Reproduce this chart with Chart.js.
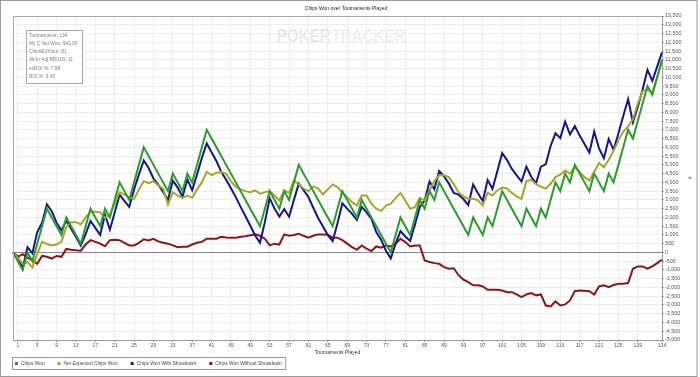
<!DOCTYPE html>
<html>
<head>
<meta charset="utf-8">
<script src="https://cdn.jsdelivr.net/npm/chart.js@4.4.1/dist/chart.umd.min.js"></script>
<style>
  html, body { margin: 0; padding: 0; background: #fff; }
  #wrap { width: 700px; height: 377px; }
</style>
</head>
<body>
<div id="wrap"><canvas id="mychart" width="700" height="377"></canvas></div>
<script>
const FONT = '"Liberation Sans", Arial, sans-serif'
let mychart

// tournament index 0..134 (0 = starting point)
const tournaments = Array.from({ length: 135 }, (_, i) => String(i))
const xTickLabels = ['1', '5', '9', '13', '17', '21', '25', '29', '33', '37', '41', '45', '49', '53', '57', '61', '65',
    '69', '73', '77', '81', '85', '89', '93', '97', '101', '105', '109', '113', '117', '121', '125', '129', '134']

const chipsWon = [
    0, -500, -1000, 0, -500, 500, 1500, 2500, 2000, 1500,
    1000, 2000, 1500, 1000, 500, 1500, 2500, 2000, 1500, 2500,
    2000, 3000, 4000, 3500, 3000, 4000, 5000, 6000, 5500, 5000,
    4500, 4000, 3500, 4500, 4000, 3500, 4500, 4000, 5000, 6000,
    7000, 6500, 6000, 5500, 5000, 4500, 4000, 3500, 3000, 2500,
    2000, 1500, 2500, 3500, 3000, 2500, 3500, 3000, 4000, 5000,
    4500, 4000, 3500, 3000, 2500, 2000, 1500, 2500, 3500, 3000,
    2500, 2000, 3000, 2500, 2000, 1500, 1000, 500, 0, 1000,
    2000, 1500, 1000, 2000, 3000, 2500, 3500, 3000, 4000, 3500,
    3000, 2500, 2000, 1500, 1000, 2000, 1500, 1000, 2000, 1500,
    2500, 3500, 3000, 2500, 2000, 1500, 2500, 2000, 1500, 2500,
    2000, 3000, 4000, 3500, 4500, 4000, 5000, 4500, 4000, 3500,
    4500, 4000, 3500, 4500, 4000, 5000, 6000, 7000, 6500, 7500,
    8500, 9500, 9000, 10000, 11000
]

const netExpected = [
    0, -300, -650, -550, -850, -100, 600, 480, 400, 450,
    600, 1450, 1730, 1730, 1600, 2000, 2340, 2320, 2300, 1970,
    2150, 2800, 3440, 3300, 3160, 3060, 3600, 4070, 3960, 4070,
    3830, 3640, 2740, 3440, 3250, 3120, 3250, 3120, 3600, 4000,
    4600, 4420, 4550, 4590, 4500, 4050, 3750, 3600, 3500, 3440,
    3540, 3350, 3440, 3500, 3250, 2970, 3540, 3400, 4110, 3880,
    3650, 3500, 3770, 3650, 3310, 3600, 3880, 3730, 3400, 3150,
    2870, 2680, 3250, 3250, 2780, 2500, 2360, 2680, 2780, 3100,
    3390, 2970, 2490, 2600, 3120, 2970, 3540, 4070, 4400, 4400,
    4300, 3900, 3440, 3200, 3060, 3060, 2970, 2680, 3400, 3250,
    3540, 3700, 3650, 3400, 3200, 3060, 4070, 4150, 3900, 3750,
    3640, 3920, 4300, 4440, 4680, 4500, 4870, 4590, 4300, 4110,
    4590, 5100, 4870, 5290, 5800, 6400, 6900, 7200, 7600, 8500,
    9200, 9300, 9100, 10000, 10900
]

const withShowdown = [
    0, -250, -900, 300, -50, 1150, 1700, 2750, 2350, 1700,
    1250, 1800, 1350, 880, 400, 1050, 1800, 1400, 1000, 2150,
    1300, 2280, 3300, 2950, 2600, 3600, 4450, 5250, 4820, 4220,
    3870, 3450, 3000, 4100, 3700, 3180, 4170, 3550, 4450, 5400,
    6220, 5720, 5220, 4600, 4150, 3660, 3160, 2600, 2070, 1520,
    970, 550, 1720, 3100, 2500, 2050, 2470, 2040, 3000, 3930,
    3550, 3160, 2550, 1970, 1480, 990, 650, 1660, 2800, 2500,
    2200, 1850, 2600, 2290, 1920, 1160, 730, 100, -340, 500,
    1220, 910, 660, 1600, 2600, 2960, 4050, 3610, 4650, 4340,
    3930, 3400, 3300, 3050, 2700, 3880, 3380, 2940, 4130, 3630,
    4630, 5670, 5270, 4770, 4400, 4050, 4900, 4320, 3950, 4900,
    5030, 6080, 6800, 6530, 7470, 6740, 7210, 6670, 6190, 5710,
    6900, 5940, 5380, 6480, 5860, 6790, 7790, 8750, 7430, 8300,
    9300, 10430, 9800, 10610, 11420
]

const withoutShowdown = [
    0, -250, -100, -300, -450, -650, -200, -250, -350, -200,
    -250, 200, 150, 120, 100, 450, 700, 600, 500, 350,
    700, 720, 700, 550, 400, 400, 550, 750, 680, 780,
    630, 550, 500, 400, 300, 320, 330, 450, 550, 600,
    780, 780, 780, 900, 850, 840, 840, 900, 930, 980,
    1030, 950, 780, 400, 500, 450, 1030, 960, 1000, 1070,
    950, 840, 950, 1030, 1020, 1010, 850, 840, 700, 500,
    300, 150, 400, 210, 80, 340, 270, 400, 340, 500,
    780, 590, 340, 400, 400, -460, -550, -610, -650, -840,
    -930, -900, -1300, -1550, -1700, -1880, -1880, -1940, -2130, -2130,
    -2130, -2170, -2270, -2270, -2400, -2550, -2400, -2320, -2450, -2400,
    -3030, -3080, -2800, -3030, -2970, -2740, -2210, -2170, -2190, -2210,
    -2400, -1940, -1880, -1980, -1860, -1790, -1790, -1750, -930, -800,
    -800, -930, -800, -610, -420
]

const statsLines = ['Tournaments: 134', 'My C Net Won: $42.00', 'ChipsEV/hour: 81',
    'All-In Adj BB/100: 11', 'evROI %: 7.98', 'ROI %: 6.40']

// watermark, stats box, legend box, frames
const decor = {
    id: 'decor',
    beforeDatasetsDraw(chart) {
        const ctx = chart.ctx
        ctx.save()
        ctx.translate(277, 28)
        ctx.scale(0.84, 1)
        ctx.font = 'bold 18px "Liberation Sans", sans-serif'
        ctx.textBaseline = 'top'
        ctx.fillStyle = '#e9e9e9'
        ctx.fillText('POKER', 0, 0)
        const w = ctx.measureText('POKER').width
        ctx.fillStyle = '#f0f0f0'
        ctx.fillText('TRACKER', w + 1, 0)
        ctx.restore()
    },
    afterDraw(chart) {
        const ctx = chart.ctx
        const a = chart.chartArea
        ctx.save()
        // plot border
        ctx.strokeStyle = '#a8a8a8'
        ctx.lineWidth = 1
        ctx.beginPath()
        ctx.moveTo(a.left + 0.5, a.bottom)
        ctx.lineTo(a.left + 0.5, a.top + 0.5)
        ctx.lineTo(a.right, a.top + 0.5)
        ctx.stroke()

        // stats box
        ctx.fillStyle = '#fff'
        ctx.fillRect(27, 31, 55, 52)
        ctx.strokeStyle = '#aaaaaa'
        ctx.strokeRect(26.5, 30.5, 56, 53)
        ctx.font = '4.8px ' + FONT
        ctx.fillStyle = '#808080'
        ctx.textBaseline = 'middle'
        statsLines.forEach((t, i) => ctx.fillText(t, 29, 35.5 + i * 8.2))

        // legend
        ctx.font = '4.85px ' + FONT
        let x = 15
        const y = 363.5
        chart.data.datasets.forEach(ds => {
            ctx.fillStyle = ds.borderColor
            ctx.fillRect(x, y - 1.5, 3, 3)
            x += 6
            ctx.fillStyle = '#444'
            ctx.fillText(ds.label, x, y)
            x += ctx.measureText(ds.label).width + 13
        })
        ctx.strokeStyle = '#999'
        ctx.strokeRect(12.5, 357.5, x - 13 + 4 - 12.5, 12)

        // outer frame
        ctx.strokeStyle = '#9a9a9a'
        ctx.strokeRect(0.5, 0.5, 696.5, 376)
        ctx.restore()
    }
}

const render = function() {
    const ctx = document.getElementById('mychart').getContext('2d')
    Chart.defaults.font.family = FONT
    mychart = new Chart(ctx, {
        type: 'line',
        data: {
            labels: tournaments,
            datasets: [
                { label: 'Chips Won', data: chipsWon, borderColor: '#2b9b2b', yAxisID: 'y' },
                { label: 'Net Expected Chips Won', data: netExpected, borderColor: '#a8a628', yAxisID: 'y' },
                { label: 'Chips Won With Showdown', data: withShowdown, borderColor: '#15158c', yAxisID: 'y' },
                { label: 'Chips Won Without Showdown', data: withoutShowdown, borderColor: '#8c1515', yAxisID: 'y' }
            ]
        },
        options: {
            responsive: false,
            animation: false,
            devicePixelRatio: 1,
            layout: { padding: { left: 0, right: 8, top: 0, bottom: 20 } },
            elements: {
                point: { radius: 0 },
                line: { tension: 0, borderWidth: 2, fill: false }
            },
            plugins: {
                legend: { display: false },
                tooltip: { enabled: false },
                title: {
                    display: true,
                    text: 'Chips Won over Tournaments Played',
                    color: '#222',
                    font: { size: 5, weight: 'normal' },
                    padding: { top: 6, bottom: 4 }
                }
            },
            scales: {
                x: {
                    type: 'category',
                    grid: { color: '#ededed', tickColor: '#999', tickLength: 2 },
                    border: { color: '#999' },
                    ticks: {
                        autoSkip: false,
                        maxRotation: 0,
                        padding: 1,
                        color: '#555',
                        font: { size: 5 },
                        callback: function(v) {
                            const l = this.getLabelForValue(v)
                            return xTickLabels.includes(l) ? l : null
                        }
                    },
                    title: {
                        display: true,
                        text: 'Tournaments Played',
                        color: '#333',
                        font: { size: 5 },
                        padding: { top: 0, bottom: 1 }
                    },
                    afterFit: (s) => { s.height = 17 }
                },
                yl: {
                    type: 'linear',
                    position: 'left',
                    ticks: { display: false },
                    grid: { display: false },
                    border: { display: false },
                    afterFit: (s) => { s.width = 13 }
                },
                y: {
                    type: 'linear',
                    position: 'right',
                    min: -5000,
                    max: 13500,
                    grid: {
                        color: (c) => c.tick && c.tick.value === 0 ? '#8a8a8a' : '#ededed',
                        tickColor: '#999',
                        tickLength: 2
                    },
                    border: { color: '#999' },
                    ticks: {
                        stepSize: 500,
                        autoSkip: false,
                        padding: 1,
                        color: '#555',
                        font: { size: 5.4 },
                        callback: (v) => v.toLocaleString('en-US')
                    },
                    title: {
                        display: true,
                        text: '#',
                        color: '#333',
                        font: { size: 5 },
                        padding: 0
                    },
                    afterFit: (s) => { s.width = 30 }
                }
            }
        },
        plugins: [decor]
    })
}
render()
</script>
</body>
</html>
